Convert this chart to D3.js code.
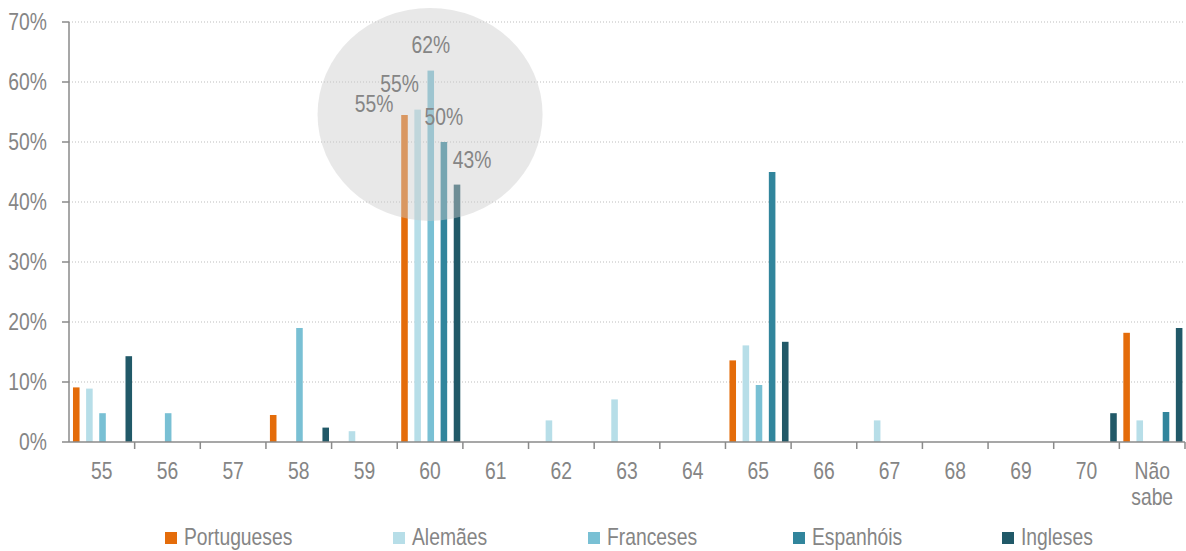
<!DOCTYPE html>
<html>
<head>
<meta charset="utf-8">
<script src="https://cdn.jsdelivr.net/npm/d3@7"></script>
<style>
  html, body { margin: 0; padding: 0; background: #fff; }
  svg { display: block; }
  text { font-family: "Liberation Sans", Arial, sans-serif; }
</style>
</head>
<body>
<svg id="chart" width="1186" height="551"></svg>
<script>
// Idade esperada de reforma, por nacionalidade (percentagem de respostas)
const categories = ["55", "56", "57", "58", "59", "60", "61", "62", "63", "64", "65", "66", "67", "68", "69", "70", "Não sabe"];
const seriesNames = ["Portugueses", "Alemães", "Franceses", "Espanhóis", "Ingleses"];
const seriesColors = ["#E46C0A", "#B7DEE8", "#79C0D4", "#31859C", "#215968"];

const portugueses = [9.1, 0, 0, 4.5, 0, 54.5, 0, 0, 0, 0, 13.6, 0, 0, 0, 0, 0, 18.2];
const alemaes     = [8.9, 0, 0, 0, 1.8, 55.4, 0, 3.6, 7.1, 0, 16.1, 0, 3.6, 0, 0, 0, 3.6];
const franceses   = [4.8, 4.8, 0, 19.0, 0, 61.9, 0, 0, 0, 0, 9.5, 0, 0, 0, 0, 0, 0];
const espanhois   = [0, 0, 0, 0, 0, 50.0, 0, 0, 0, 0, 45.0, 0, 0, 0, 0, 0, 5.0];
const ingleses    = [14.3, 0, 0, 2.4, 0, 42.9, 0, 0, 0, 0, 16.7, 0, 0, 0, 0, 4.8, 19.0];

const yTicks = [0, 10, 20, 30, 40, 50, 60, 70];

// Destaque do grupo dos 60 anos: rótulos com o valor de cada barra
const highlightCategory = "60";

const seriesValues = [portugueses, alemaes, franceses, espanhois, ingleses];

const svg = d3.select("#chart");
const margin = { left: 69, right: 1, top: 22, bottom: 109 };
const W = 1186, H = 551;

const x0 = d3.scaleBand().domain(categories).range([margin.left, W - margin.right]).padding(0);
const x1 = d3.scaleBand().domain(seriesNames).range([0, x0.bandwidth()]).padding(0);
const y = d3.scaleLinear().domain([0, 70]).range([H - margin.bottom, margin.top]);

const textColor = "#858585";
const axisColor = "#8a8a8a";
const fontSize = 23;
const narrow = 0.84; // texto ligeiramente condensado

// Texto condensado horizontalmente, ancorado em (x, y)
function narrowText(sel, x, y) {
  return sel.attr("transform", d => `translate(${typeof x === "function" ? x(d) : x},${typeof y === "function" ? y(d) : y}) scale(${narrow},1)`)
    .attr("font-size", fontSize)
    .attr("fill", textColor);
}

// Linhas de grelha pontilhadas
svg.append("g")
  .selectAll("line")
  .data(yTicks.filter(d => d > 0))
  .join("line")
  .attr("x1", margin.left)
  .attr("x2", W - margin.right)
  .attr("y1", d => y(d))
  .attr("y2", d => y(d))
  .attr("stroke", "#bdbdbd")
  .attr("stroke-width", 1)
  .attr("stroke-dasharray", "1,2");

// Barras
const rows = categories.map((c, i) => ({ cat: c, vals: seriesNames.map((s, j) => ({ s, j, v: seriesValues[j][i], cat: c })) }));
const barW = x1.bandwidth() / 2;

svg.append("g")
  .selectAll("g")
  .data(rows)
  .join("g")
  .attr("transform", d => `translate(${x0(d.cat)},0)`)
  .selectAll("rect")
  .data(d => d.vals.filter(v => v.v > 0))
  .join("rect")
  .attr("x", d => x1(d.s) + (x1.bandwidth() - barW) / 2 + 0.7)
  .attr("y", d => y(d.v))
  .attr("width", barW)
  .attr("height", d => y(0) - y(d.v))
  .attr("fill", d => seriesColors[d.j]);

// Elipse de destaque sobre o grupo dos 60 anos
const hcx = x0(highlightCategory) + x0.bandwidth() / 2;
svg.append("ellipse")
  .attr("cx", hcx)
  .attr("cy", y(54.6))
  .attr("rx", 112.5)
  .attr("ry", 106.5)
  .attr("fill", "#cbcbcb")
  .attr("fill-opacity", 0.45);

// Rótulos de valor no grupo destacado
const labelPlacement = [
  { anchor: "end",    dx: -11, dy: -3 },
  { anchor: "middle", dx: -18, dy: -18 },
  { anchor: "middle", dx: 0,   dy: -18 },
  { anchor: "middle", dx: 0,   dy: -17 },
  { anchor: "middle", dx: 15,  dy: -17 }
];
const hi = categories.indexOf(highlightCategory);
svg.append("g")
  .selectAll("text")
  .data(seriesNames.map((s, j) => ({ s, j, v: seriesValues[j][hi] })))
  .join("text")
  .call(narrowText,
    d => x0(highlightCategory) + x1(d.s) + x1.bandwidth() / 2 + 0.7 + labelPlacement[d.j].dx,
    d => y(d.v) + labelPlacement[d.j].dy)
  .attr("text-anchor", d => labelPlacement[d.j].anchor)
  .text(d => d3.format(".0f")(d.v) + "%");

// Eixo Y
const yAxis = svg.append("g");
yAxis.append("line")
  .attr("x1", margin.left).attr("x2", margin.left)
  .attr("y1", y(0)).attr("y2", y(70))
  .attr("stroke", axisColor).attr("stroke-width", 1.5);
yAxis.selectAll("line.tick")
  .data(yTicks)
  .join("line")
  .attr("class", "tick")
  .attr("x1", margin.left - 7).attr("x2", margin.left)
  .attr("y1", d => y(d)).attr("y2", d => y(d))
  .attr("stroke", axisColor).attr("stroke-width", 1.5);
yAxis.selectAll("text")
  .data(yTicks)
  .join("text")
  .call(narrowText, 47, d => y(d) + 8)
  .attr("text-anchor", "end")
  .text(d => d + "%");

// Eixo X
const xAxis = svg.append("g");
xAxis.append("line")
  .attr("x1", margin.left).attr("x2", W - margin.right)
  .attr("y1", y(0)).attr("y2", y(0))
  .attr("stroke", axisColor).attr("stroke-width", 1.5);
const boundaries = categories.map(c => x0(c)).concat([x0(categories[categories.length - 1]) + x0.bandwidth()]);
xAxis.selectAll("line.tick")
  .data(boundaries.slice(1))
  .join("line")
  .attr("class", "tick")
  .attr("x1", d => d).attr("x2", d => d)
  .attr("y1", y(0)).attr("y2", y(0) + 7)
  .attr("stroke", axisColor).attr("stroke-width", 1.5);
xAxis.selectAll("text")
  .data(categories)
  .join("text")
  .call(narrowText, d => x0(d) + x0.bandwidth() / 2, y(0) + 37)
  .attr("text-anchor", "middle")
  .each(function (d) {
    const parts = d.split(" ");
    const t = d3.select(this);
    parts.forEach((p, i) => {
      t.append("tspan")
        .attr("x", 0)
        .attr("dy", i === 0 ? 0 : 26)
        .text(p);
    });
  });

// Legenda
const legendX = [165, 393, 588, 793, 1002];
const legend = svg.append("g")
  .selectAll("g")
  .data(seriesNames)
  .join("g")
  .attr("transform", (d, i) => `translate(${legendX[i]},532)`);
legend.append("rect")
  .attr("width", 12).attr("height", 12)
  .attr("fill", (d, i) => seriesColors[i]);
legend.append("text")
  .call(narrowText, 19, 13)
  .text(d => d);
</script>
</body>
</html>
